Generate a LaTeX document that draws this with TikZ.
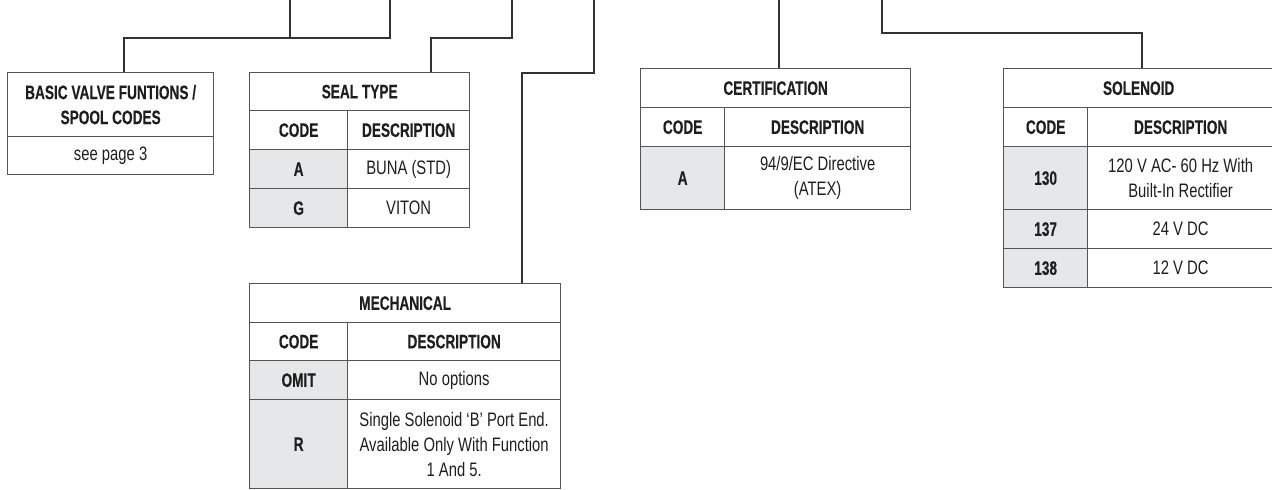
\documentclass[tikz,border=0pt]{standalone}
\usepackage{fontspec}
\setmainfont{Liberation Sans}[FakeStretch=0.76]
\newfontfamily\bdfont{Liberation Sans}[FakeStretch=0.7, FakeBold=0.3]
\usetikzlibrary{calc}
\definecolor{boxline}{RGB}{85,85,85}
\definecolor{conline}{RGB}{50,50,50}
\definecolor{codefill}{RGB}{230,231,232}
\definecolor{txt}{RGB}{30,30,30}
\tikzset{
  cell/.style={draw=boxline, line width=1.3pt, anchor=north west, inner sep=0pt,
    font=\fontsize{19.5}{25}\selectfont, align=center, text=txt},
  hd/.style={cell, font=\fontsize{19.5}{25}\selectfont\bdfont\bfseries},
  codecell/.style={hd, fill=codefill},
  conn/.style={draw=conline, line width=1.4pt},
}
\begin{document}
\begin{tikzpicture}[x=1pt,y=-1pt]
\useasboundingbox (0,0) rectangle (1272,490);

% ---------- BASIC VALVE FUNCTIONS ----------
\node[hd, minimum width=206pt, minimum height=64pt] (bh) at (7,72) {BASIC VALVE FUNTIONS /\\SPOOL CODES};
\node[cell, minimum width=206pt, minimum height=38pt] (bb) at (7,136) {see page 3};

% ---------- SEAL TYPE ----------
\node[hd, minimum width=220pt, minimum height=38pt] (sh) at (249,72) {SEAL TYPE};
\node[hd, minimum width=98pt, minimum height=39pt] (sc) at (249,110) {CODE};
\node[hd, minimum width=122pt, minimum height=39pt] (sd) at (347,110) {DESCRIPTION};
\node[codecell, minimum width=98pt, minimum height=39pt] (sa) at (249,149) {A};
\node[cell, minimum width=122pt, minimum height=39pt] (sad) at (347,149) {BUNA (STD)};
\node[codecell, minimum width=98pt, minimum height=39pt] (sg) at (249,188) {G};
\node[cell, minimum width=122pt, minimum height=39pt] (sgd) at (347,188) {VITON};

% ---------- MECHANICAL ----------
\node[hd, minimum width=311pt, minimum height=39pt] (mh) at (249,283) {MECHANICAL};
\node[hd, minimum width=98pt, minimum height=38pt] (mc) at (249,322) {CODE};
\node[hd, minimum width=213pt, minimum height=38pt] (md) at (347,322) {DESCRIPTION};
\node[codecell, minimum width=98pt, minimum height=39pt] (mo) at (249,360) {OMIT};
\node[cell, minimum width=213pt, minimum height=39pt] (mod) at (347,360) {No options};
\node[codecell, minimum width=98pt, minimum height=89pt] (mr) at (249,399) {R};
\node[cell, minimum width=213pt, minimum height=89pt] (mrd) at (347,399) {Single Solenoid ‘B’ Port End.\\Available Only With Function\\1 And 5.};

% ---------- CERTIFICATION ----------
\node[hd, minimum width=270pt, minimum height=39pt] (ch) at (640,68) {CERTIFICATION};
\node[hd, minimum width=84pt, minimum height=39pt] (cc) at (640,107) {CODE};
\node[hd, minimum width=186pt, minimum height=39pt] (cd) at (724,107) {DESCRIPTION};
\node[codecell, minimum width=84pt, minimum height=63pt] (ca) at (640,146) {A};
\node[cell, minimum width=186pt, minimum height=63pt] (cad) at (724,146) {94/9/EC Directive\\(ATEX)};

% ---------- SOLENOID ----------
\node[hd, minimum width=270pt, minimum height=39pt] (oh) at (1003,68) {SOLENOID};
\node[hd, minimum width=84pt, minimum height=39pt] (oc) at (1003,107) {CODE};
\node[hd, minimum width=186pt, minimum height=39pt] (od) at (1087,107) {DESCRIPTION};
\node[codecell, minimum width=84pt, minimum height=63pt] (o1) at (1003,146) {130};
\node[cell, minimum width=186pt, minimum height=63pt] (o1d) at (1087,146) {120 V AC- 60 Hz With\\Built-In Rectifier};
\node[codecell, minimum width=84pt, minimum height=39pt] (o2) at (1003,209) {137};
\node[cell, minimum width=186pt, minimum height=39pt] (o2d) at (1087,209) {24 V DC};
\node[codecell, minimum width=84pt, minimum height=39pt] (o3) at (1003,248) {138};
\node[cell, minimum width=186pt, minimum height=39pt] (o3d) at (1087,248) {12 V DC};

% ---------- connectors ----------
\coordinate (t1) at (290,0);
\coordinate (t2) at (390,0);
\coordinate (t3) at (512,0);
\coordinate (t4) at (594,0);
\coordinate (t5) at (779,0);
\coordinate (t6) at (882,0);
\draw[conn] (t2) -- ++(0,38) -| ($(bh.north west)+(117,0)$);
\draw[conn] (t1) -- ++(0,38);
\draw[conn] (t3) -- ++(0,38) -| ($(sh.north west)+(182,0)$);
\draw[conn] (t4) -- ++(0,73) -| ($(mh.north west)+(273,0)$);
\draw[conn] (t5) -- (t5 |- ch.north);
\draw[conn] (t6) -- ++(0,33) -| ($(oh.north west)+(139,0)$);
\end{tikzpicture}
\end{document}
